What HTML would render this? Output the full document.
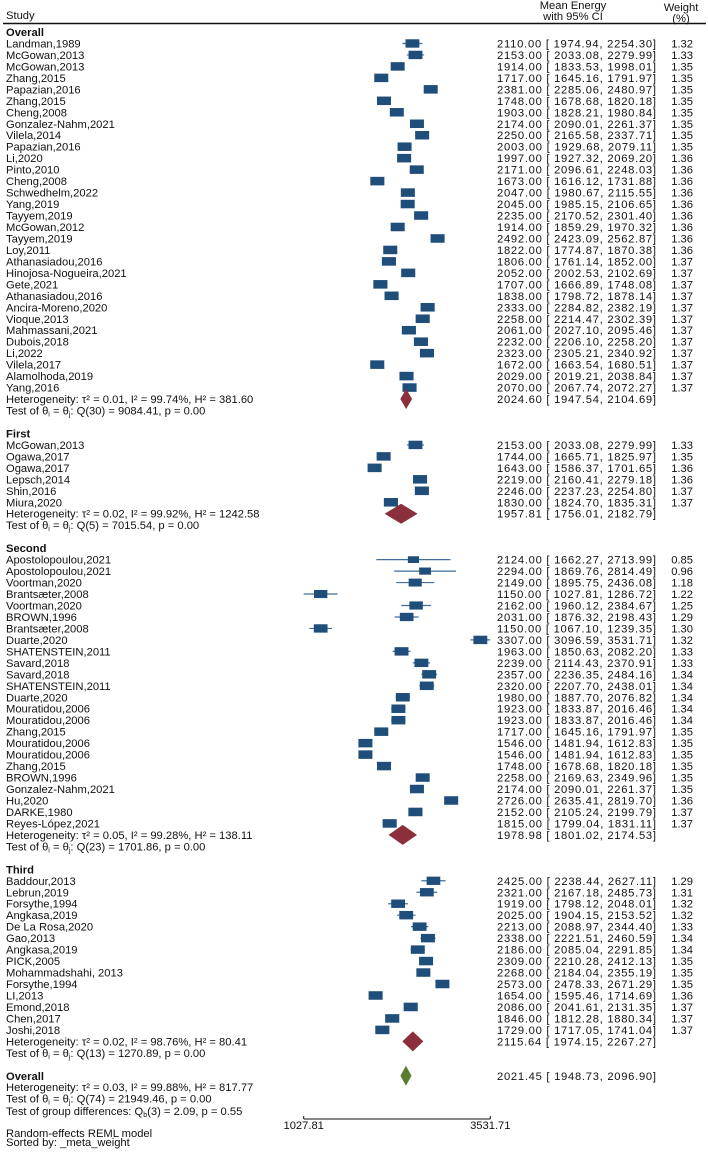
<!DOCTYPE html>
<html><head><meta charset="utf-8"><style>
html,body{margin:0;padding:0;background:#fff;}
svg text{font-family:"Liberation Sans",Arial,sans-serif;font-size:11.2px;fill:#111;}
.b{font-weight:bold;}
</style></head><body>
<svg id="plot" width="708" height="1150" xmlns="http://www.w3.org/2000/svg">
<text x="6" y="19">Study</text>
<text x="573" y="9" text-anchor="middle">Mean Energy</text>
<text x="573" y="20" text-anchor="middle">with 95% CI</text>
<text x="681" y="11" text-anchor="middle">Weight</text>
<text x="681" y="22" text-anchor="middle">(%)</text>
<line x1="3" y1="23.5" x2="706" y2="23.5" stroke="#111" stroke-width="1.5"/>
<g id="rows"></g>
<text x="6" y="1137">Random-effects REML model</text>
<text x="6" y="1146">Sorted by: _meta_weight</text>
</svg>
<script>
const sectionNames = ["Overall","First","Second","Third"];
const studyNames = ["Landman,1989","McGowan,2013","McGowan,2013","Zhang,2015","Papazian,2016","Zhang,2015","Cheng,2008","Gonzalez-Nahm,2021","Vilela,2014","Papazian,2016","Li,2020","Pinto,2010","Cheng,2008","Schwedhelm,2022","Yang,2019","Tayyem,2019","McGowan,2012","Tayyem,2019","Loy,2011","Athanasiadou,2016","Hinojosa-Nogueira,2021","Gete,2021","Athanasiadou,2016","Ancira-Moreno,2020","Vioque,2013","Mahmassani,2021","Dubois,2018","Li,2022","Vilela,2017","Alamolhoda,2019","Yang,2016",
"McGowan,2013","Ogawa,2017","Ogawa,2017","Lepsch,2014","Shin,2016","Miura,2020",
"Apostolopoulou,2021","Apostolopoulou,2021","Voortman,2020","Brantsæter,2008","Voortman,2020","BROWN,1996","Brantsæter,2008","Duarte,2020","SHATENSTEIN,2011","Savard,2018","Savard,2018","SHATENSTEIN,2011","Duarte,2020","Mouratidou,2006","Mouratidou,2006","Zhang,2015","Mouratidou,2006","Mouratidou,2006","Zhang,2015","BROWN,1996","Gonzalez-Nahm,2021","Hu,2020","DARKE,1980","Reyes-López,2021",
"Baddour,2013","Lebrun,2019","Forsythe,1994","Angkasa,2019","De La Rosa,2020","Gao,2013","Angkasa,2019","PICK,2005","Mohammadshahi, 2013","Forsythe,1994","LI,2013","Emond,2018","Chen,2017","Joshi,2018"];
const studySection = [0,0,0,0,0,0,0,0,0,0,0,0,0,0,0,0,0,0,0,0,0,0,0,0,0,0,0,0,0,0,0,1,1,1,1,1,1,2,2,2,2,2,2,2,2,2,2,2,2,2,2,2,2,2,2,2,2,2,2,2,2,3,3,3,3,3,3,3,3,3,3,3,3,3,3];
const means = [2110,2153,1914,1717,2381,1748,1903,2174,2250,2003,1997,2171,1673,2047,2045,2235,1914,2492,1822,1806,2052,1707,1838,2333,2258,2061,2232,2323,1672,2029,2070,
2153,1744,1643,2219,2246,1830,
2124,2294,2149,1150,2162,2031,1150,3307,1963,2239,2357,2320,1980,1923,1923,1717,1546,1546,1748,2258,2174,2726,2152,1815,
2425,2321,1919,2025,2213,2338,2186,2309,2268,2573,1654,2086,1846,1729];
const lower = [1974.94,2033.08,1833.53,1645.16,2285.06,1678.68,1828.21,2090.01,2165.58,1929.68,1927.32,2096.61,1616.12,1980.67,1985.15,2170.52,1859.29,2423.09,1774.87,1761.14,2002.53,1666.89,1798.72,2284.82,2214.47,2027.10,2206.10,2305.21,1663.54,2019.21,2067.74,
2033.08,1665.71,1586.37,2160.41,2237.23,1824.70,
1662.27,1869.76,1895.75,1027.81,1960.12,1876.32,1067.10,3096.59,1850.63,2114.43,2236.35,2207.70,1887.70,1833.87,1833.87,1645.16,1481.94,1481.94,1678.68,2169.63,2090.01,2635.41,2105.24,1799.04,
2238.44,2167.18,1798.12,1904.15,2088.97,2221.51,2085.04,2210.28,2184.04,2478.33,1595.46,2041.61,1812.28,1717.05];
const upper = [2254.30,2279.99,1998.01,1791.97,2480.97,1820.18,1980.84,2261.37,2337.71,2079.11,2069.20,2248.03,1731.88,2115.55,2106.65,2301.40,1970.32,2562.87,1870.38,1852.00,2102.69,1748.08,1878.14,2382.19,2302.39,2095.46,2258.20,2340.92,1680.51,2038.84,2072.27,
2279.99,1825.97,1701.65,2279.18,2254.80,1835.31,
2713.99,2814.49,2436.08,1286.72,2384.67,2198.43,1239.35,3531.71,2082.20,2370.91,2484.16,2438.01,2076.82,2016.46,2016.46,1791.97,1612.83,1612.83,1820.18,2349.96,2261.37,2819.70,2199.79,1831.11,
2627.11,2485.73,2048.01,2153.52,2344.40,2460.59,2291.85,2412.13,2355.19,2671.29,1714.69,2131.35,1880.34,1741.04];
const weights = [1.32,1.33,1.35,1.35,1.35,1.35,1.35,1.35,1.35,1.35,1.36,1.36,1.36,1.36,1.36,1.36,1.36,1.36,1.36,1.37,1.37,1.37,1.37,1.37,1.37,1.37,1.37,1.37,1.37,1.37,1.37,
1.33,1.35,1.36,1.36,1.37,1.37,
0.85,0.96,1.18,1.22,1.25,1.29,1.30,1.32,1.33,1.33,1.34,1.34,1.34,1.34,1.34,1.35,1.35,1.35,1.35,1.35,1.35,1.36,1.37,1.37,
1.29,1.31,1.32,1.32,1.33,1.34,1.34,1.35,1.35,1.35,1.36,1.37,1.37,1.37];
const pooledMean = [2024.60,1957.81,1978.98,2115.64];
const pooledLower = [1947.54,1756.01,1801.02,1974.15];
const pooledUpper = [2104.69,2182.79,2174.53,2267.27];
const hetStats = ["τ² = 0.01, I² = 99.74%, H² = 381.60","τ² = 0.02, I² = 99.92%, H² = 1242.58","τ² = 0.05, I² = 99.28%, H² = 138.11","τ² = 0.02, I² = 98.76%, H² = 80.41"];
const qStats = ["Q(30) = 9084.41, p = 0.00","Q(5) = 7015.54, p = 0.00","Q(23) = 1701.86, p = 0.00","Q(13) = 1270.89, p = 0.00"];
const overallPooled = [2021.45,1948.73,2096.90];
const overallHet = "τ² = 0.03, I² = 99.88%, H² = 817.77";
const overallQ = "Q(74) = 21949.46, p = 0.00";
const groupDiff = ["3","2.09","0.55"];
const axisTicks = [1027.81,3531.71];
const axisTickLabels = ["1027.81","3531.71"];

const NS="http://www.w3.org/2000/svg";
const g=document.getElementById('rows');
const X0=303.7, X1=490.3;
const lmin=Math.log(axisTicks[0]), lmax=Math.log(axisTicks[1]);
function xs(v){return X0+(Math.log(v)-lmin)/(lmax-lmin)*(X1-X0);}
function ys(i){return 32+i*11.47;}
function mk(tag,attrs){const e=document.createElementNS(NS,tag);for(const k in attrs)e.setAttribute(k,attrs[k]);g.appendChild(e);return e;}
function txt(x,y,s,cls,anchor){const e=mk('text',{x:x,y:y+4});if(cls)e.setAttribute('class',cls);if(anchor)e.setAttribute('text-anchor',anchor);e.textContent=s;return e;}
function numTxt(y,s){const e=txt(497,y,s);e.setAttribute('textLength','159');e.setAttribute('lengthAdjust','spacing');return e;}
function f2(v){return v.toFixed(2);}
function ciStr(m,l,u){return f2(m)+" [ "+f2(l)+",  "+f2(u)+"]";}
function testOf(y,q){
  const e=mk('text',{x:6,y:y+4});
  e.innerHTML='Test of θ<tspan font-size="7" dy="2">i</tspan><tspan dy="-2"> = θ</tspan><tspan font-size="7" dy="2">j</tspan><tspan dy="-2">: '+q+'</tspan>';
  return e;
}
function diamond(y,m,l,u,color){
  const h=10;
  return mk('polygon',{points:xs(l)+','+y+' '+xs(m)+','+(y-h)+' '+xs(u)+','+y+' '+xs(m)+','+(y+h),fill:color});
}
let row=0;
for(let s=0;s<sectionNames.length;s++){
  let e=txt(6,ys(row),sectionNames[s],'b');
  
  
  row++;
  for(let k=0;k<studyNames.length;k++){
    if(studySection[k]!==s)continue;
    const y=ys(row);
    e=txt(6,y,studyNames[k]);
    
    
    e=mk('line',{x1:xs(lower[k]),x2:xs(upper[k]),y1:y,y2:y,stroke:'#3f6f98','stroke-width':1.2});
    
    
    const sc=Math.sqrt(weights[k]/1.35), w=14*sc, h=8.5*sc;
    e=mk('rect',{x:xs(means[k])-w/2,y:y-h/2,width:w,height:h,fill:'#1f4e7a'});
    
    
    e=numTxt(y,ciStr(means[k],lower[k],upper[k]));
    
    
    e=txt(693,y,f2(weights[k]),null,'end');
    
    
    row++;
  }
  let y=ys(row);
  e=txt(6,y,'Heterogeneity: '+hetStats[s]);
  
  
  e=diamond(y,pooledMean[s],pooledLower[s],pooledUpper[s],'#8b2f3b');
  
  
  e=numTxt(y,ciStr(pooledMean[s],pooledLower[s],pooledUpper[s]));
  
  
  row++;
  e=testOf(ys(row),qStats[s]);
  
  
  row+=2;
}
let y=ys(row);
let e=txt(6,y,'Overall','b');


e=diamond(y,overallPooled[0],overallPooled[1],overallPooled[2],'#5b7b2f');


e=numTxt(y,ciStr(overallPooled[0],overallPooled[1],overallPooled[2]));


row++;
e=txt(6,ys(row),'Heterogeneity: '+overallHet);


row++;
e=testOf(ys(row),overallQ);


row++;
y=ys(row)+1;
e=mk('text',{x:6,y:y+4});
e.innerHTML='Test of group differences: Q<tspan font-size="7" dy="2">b</tspan><tspan dy="-2">('+groupDiff[0]+') = '+groupDiff[1]+', p = '+groupDiff[2]+'</tspan>';


const ay=1119;
e=mk('line',{x1:X0,x2:X1,y1:ay,y2:ay,stroke:'#111','stroke-width':1});


for(let t=0;t<axisTicks.length;t++){
  const x=xs(axisTicks[t]);
  e=mk('line',{x1:x,x2:x,y1:ay-3,y2:ay,stroke:'#111','stroke-width':1});
  
  
  e=txt(x,ay+6,axisTickLabels[t],null,'middle');
  
  
}
</script>
</body></html>
